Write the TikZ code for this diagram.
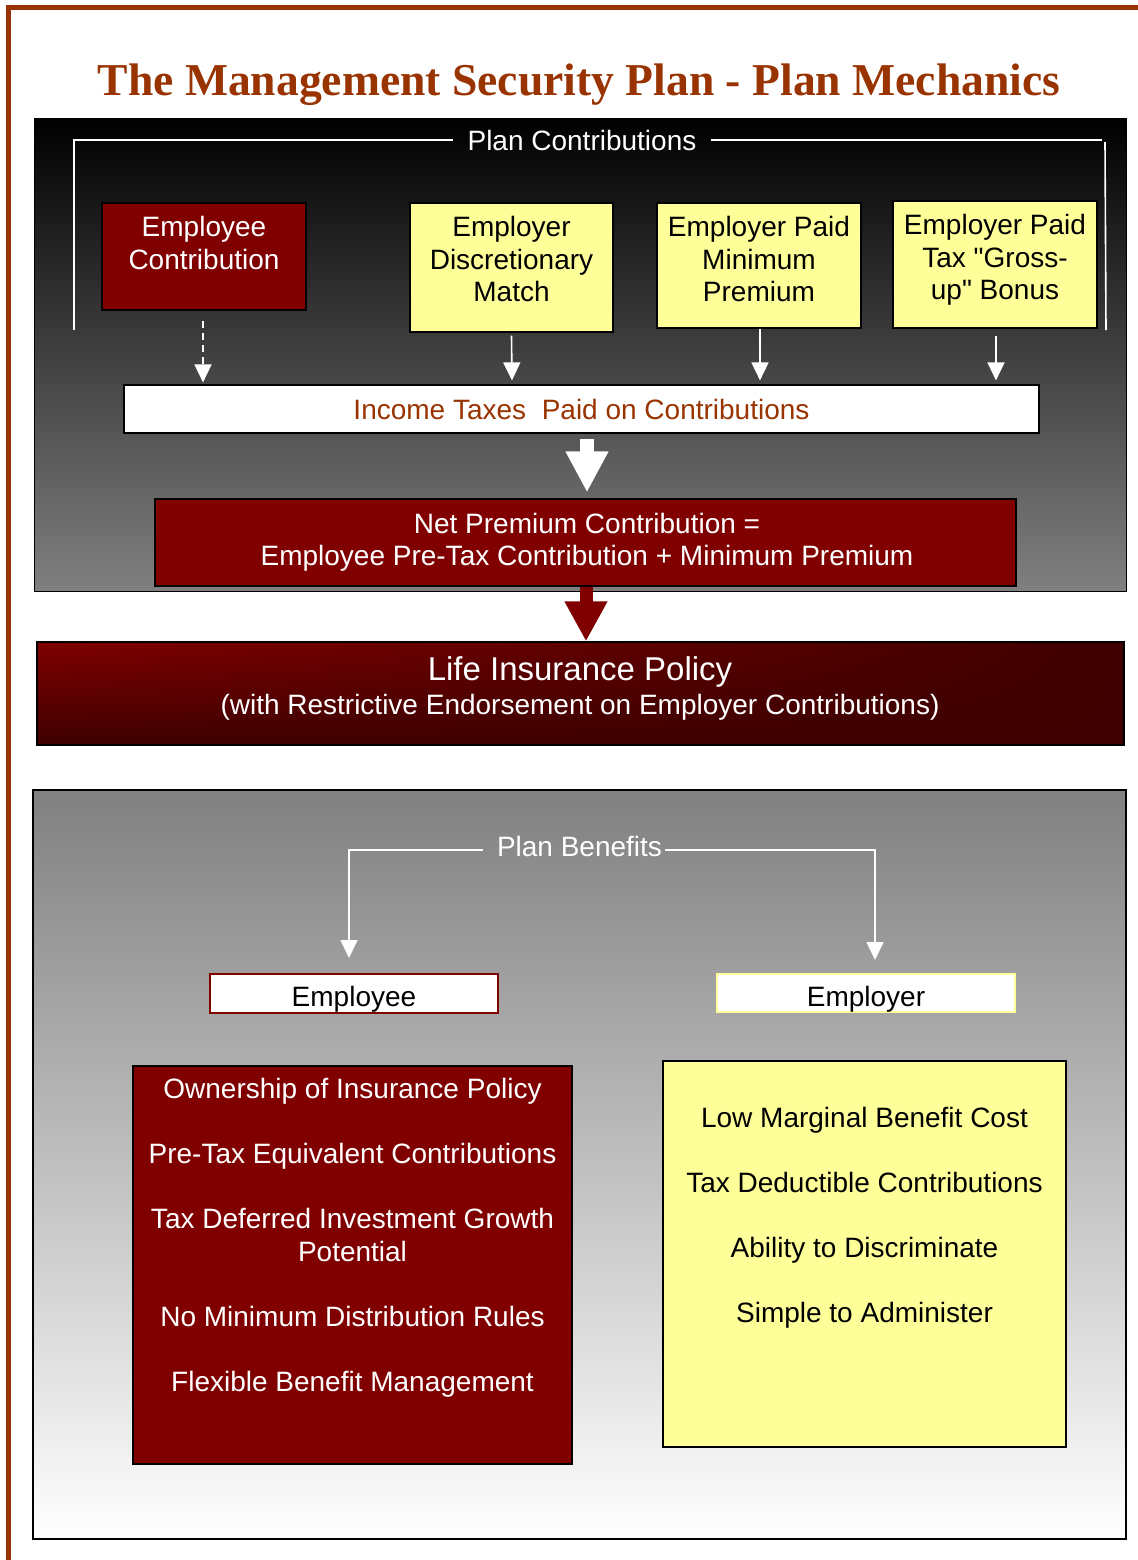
\documentclass[tikz,border=0pt]{standalone}
\usepackage{fontspec}
\setmainfont{Liberation Sans}
\newfontfamily\plainsans{Liberation Sans}[Ligatures=TeXOff]
\newfontfamily\titlefont{Liberation Serif}
\usetikzlibrary{arrows.meta,calc,shadings}
\definecolor{dred}{HTML}{800000}
\definecolor{lred}{HTML}{3E0000}
\definecolor{lyel}{HTML}{FFFF99}
\definecolor{brn}{HTML}{993300}
\definecolor{midgray}{HTML}{808080}
\begin{document}
\begin{tikzpicture}[x=0.5pt,y=-0.5pt,
  txt/.style={font=\fontsize{14}{16.25}\selectfont, align=center, inner sep=0pt},
  redbox/.style={draw=black, fill=dred, line width=0.6pt, inner sep=0pt},
  yelbox/.style={draw=black, fill=lyel, line width=0.6pt, inner sep=0pt},
  whitebox/.style={draw=black, fill=white, line width=0.6pt, inner sep=0pt},
  wline/.style={white, line width=0.8pt},
  warrow/.style={white, line width=0.8pt, -{Triangle[width=8.5pt,length=9pt]}},
]
\useasboundingbox (0,0) rectangle (1138,1560);
\fill[white] (0,0) rectangle (1138,1560);
\draw[brn, line width=2.2pt] (8.5,1560) -- (8.5,7.5) -- (1138,7.5);

% title
\node[anchor=base, inner sep=0pt, text=brn, font=\titlefont\bfseries\fontsize{22.8}{27}\selectfont] (title) at (579,95) {The Management Security Plan - Plan Mechanics};

% panels
\node[draw=black, line width=0.5pt, top color=black, bottom color=midgray, minimum width=546pt, minimum height=236.5pt, inner sep=0pt] (toppanel) at (580,354.5) {};
\node[draw=black, line width=0.6pt, top color=midgray, bottom color=white, minimum width=546.5pt, minimum height=374.5pt, inner sep=0pt] (botpanel) at (579.5,1164.5) {};

% plan contributions bracket
\node[txt, text=white, inner xsep=7pt] (pc) at (582,140) {Plan Contributions};
\coordinate (pcl) at (74,330);
\coordinate (pcr) at (1102,140);
\coordinate (pcr1) at (1105,142);
\coordinate (pcr2) at (1106,330);
\draw[wline] (pcl) -- (pcl |- pc.west) -- (pc.west);
\draw[wline] (pc.east) -- (pcr);
\draw[wline] (pcr1) -- (pcr2);

% contribution boxes
\node[redbox, minimum width=102pt, minimum height=53.5pt] (ec) at (204,256.5) {};
\node[txt, text=white, anchor=north] (ect) at (204,216) {Employee\\Contribution};
\node[yelbox, minimum width=101.5pt, minimum height=64.5pt] (dm) at (511.5,267.5) {};
\node[txt, anchor=north] (dmt) at (511.5,216) {Employer\\Discretionary\\Match};
\node[yelbox, minimum width=102pt, minimum height=62.5pt] (mp) at (759,265.5) {};
\node[txt, anchor=north] (mpt) at (759,216) {Employer Paid\\Minimum\\Premium};
\node[yelbox, minimum width=102pt, minimum height=63.5pt] (gu) at (995,264.5) {};
\node[txt, anchor=north, font=\plainsans\fontsize{14}{16.25}\selectfont] (gut) at (995,214) {Employer Paid\\Tax "Gross-\\up" Bonus};

% income taxes
\node[whitebox, minimum width=457.5pt, minimum height=24pt] (inc) at (581.5,409) {};
\node[txt, text=brn] (inct) at (581.5,409) {Income Taxes\ \ Paid on Contributions};

% contribution arrows
\draw[warrow, dash pattern=on 3.5pt off 2.5pt] ($(ec.south)+(-1,10)$) -- ($(ec.south |- inc.north)+(-1,-2)$);
\draw[warrow] ($(dm.south)+(0,3)$) -- ($(dm.south |- inc.north)+(0.5,-4)$);
\draw[warrow] ($(mp.south)+(1,0)$) -- ($(mp.south |- inc.north)+(1,-4)$);
\draw[warrow] ($(gu.south)+(1,7)$) -- ($(gu.south |- inc.north)+(1,-4)$);

% net premium
\node[redbox, minimum width=430.5pt, minimum height=43.5pt] (net) at (585.5,542.5) {};
\node[txt, text=white] (nett) at (587,542) {Net Premium Contribution =\\Employee Pre-Tax Contribution + Minimum Premium};
\draw[white, line width=7pt, -{Triangle[width=20pt,length=20.5pt]}] ($(inc.south)+(5.5,5)$) -- ($(net.north)+(1.5,-6)$);

% life insurance
\node[draw=black, line width=0.6pt, upper left=dred, upper right=lred, lower left=lred, lower right=lred, minimum width=543.5pt, minimum height=51.5pt, inner sep=0pt] (life) at (580.5,693.5) {};
\node[inner sep=0pt, text=white, font=\fontsize{16.5}{18}\selectfont] (lifet1) at (580,672) {Life Insurance Policy};
\node[txt, text=white] (lifet2) at (580,707) {(with Restrictive Endorsement on Employer Contributions)};
\draw[dred, line width=6.5pt, -{Triangle[width=20pt,length=20pt]}] ($(net.south)+(0.5,0)$) -- ($(life.north)+(5.5,0)$);

% plan benefits
\node[txt, text=white] (pb) at (579.5,846) {Plan Benefits};
\coordinate (bl) at (349,850);
\coordinate (br) at (875,850);
\draw[warrow] ($(pb.west)+(-14,4)$) -- (bl) -- ++(0,108);
\draw[warrow] ($(pb.east)+(3,4)$) -- (br) -- ++(0,110);

\node[draw=dred, fill=white, line width=0.8pt, minimum width=144pt, minimum height=19.5pt, inner sep=0pt] (eh) at (354,993.5) {};
\node[txt] (eht) at (354,999) {Employee};
\node[draw=lyel, fill=white, line width=0.8pt, minimum width=149pt, minimum height=19pt, inner sep=0pt] (erh) at (866,993) {};
\node[txt] (erht) at (866,999) {Employer};

% benefit boxes
\node[redbox, minimum width=219.5pt, minimum height=199pt] (eb) at (352.5,1265) {};
\node[txt, text=white, anchor=north] (ebt) at (352.5,1078) {Ownership of Insurance Policy\\[16.25pt]Pre-Tax Equivalent Contributions\\[16.25pt]Tax Deferred Investment Growth\\Potential\\[16.25pt]No Minimum Distribution Rules\\[16.25pt]Flexible Benefit Management};
\node[yelbox, minimum width=201.5pt, minimum height=193pt] (erb) at (864.5,1254) {};
\node[txt, anchor=north] (erbt) at (864.5,1107) {Low Marginal Benefit Cost\\[16.25pt]Tax Deductible Contributions\\[16.25pt]Ability to Discriminate\\[16.25pt]Simple to Administer};
\end{tikzpicture}
\end{document}
